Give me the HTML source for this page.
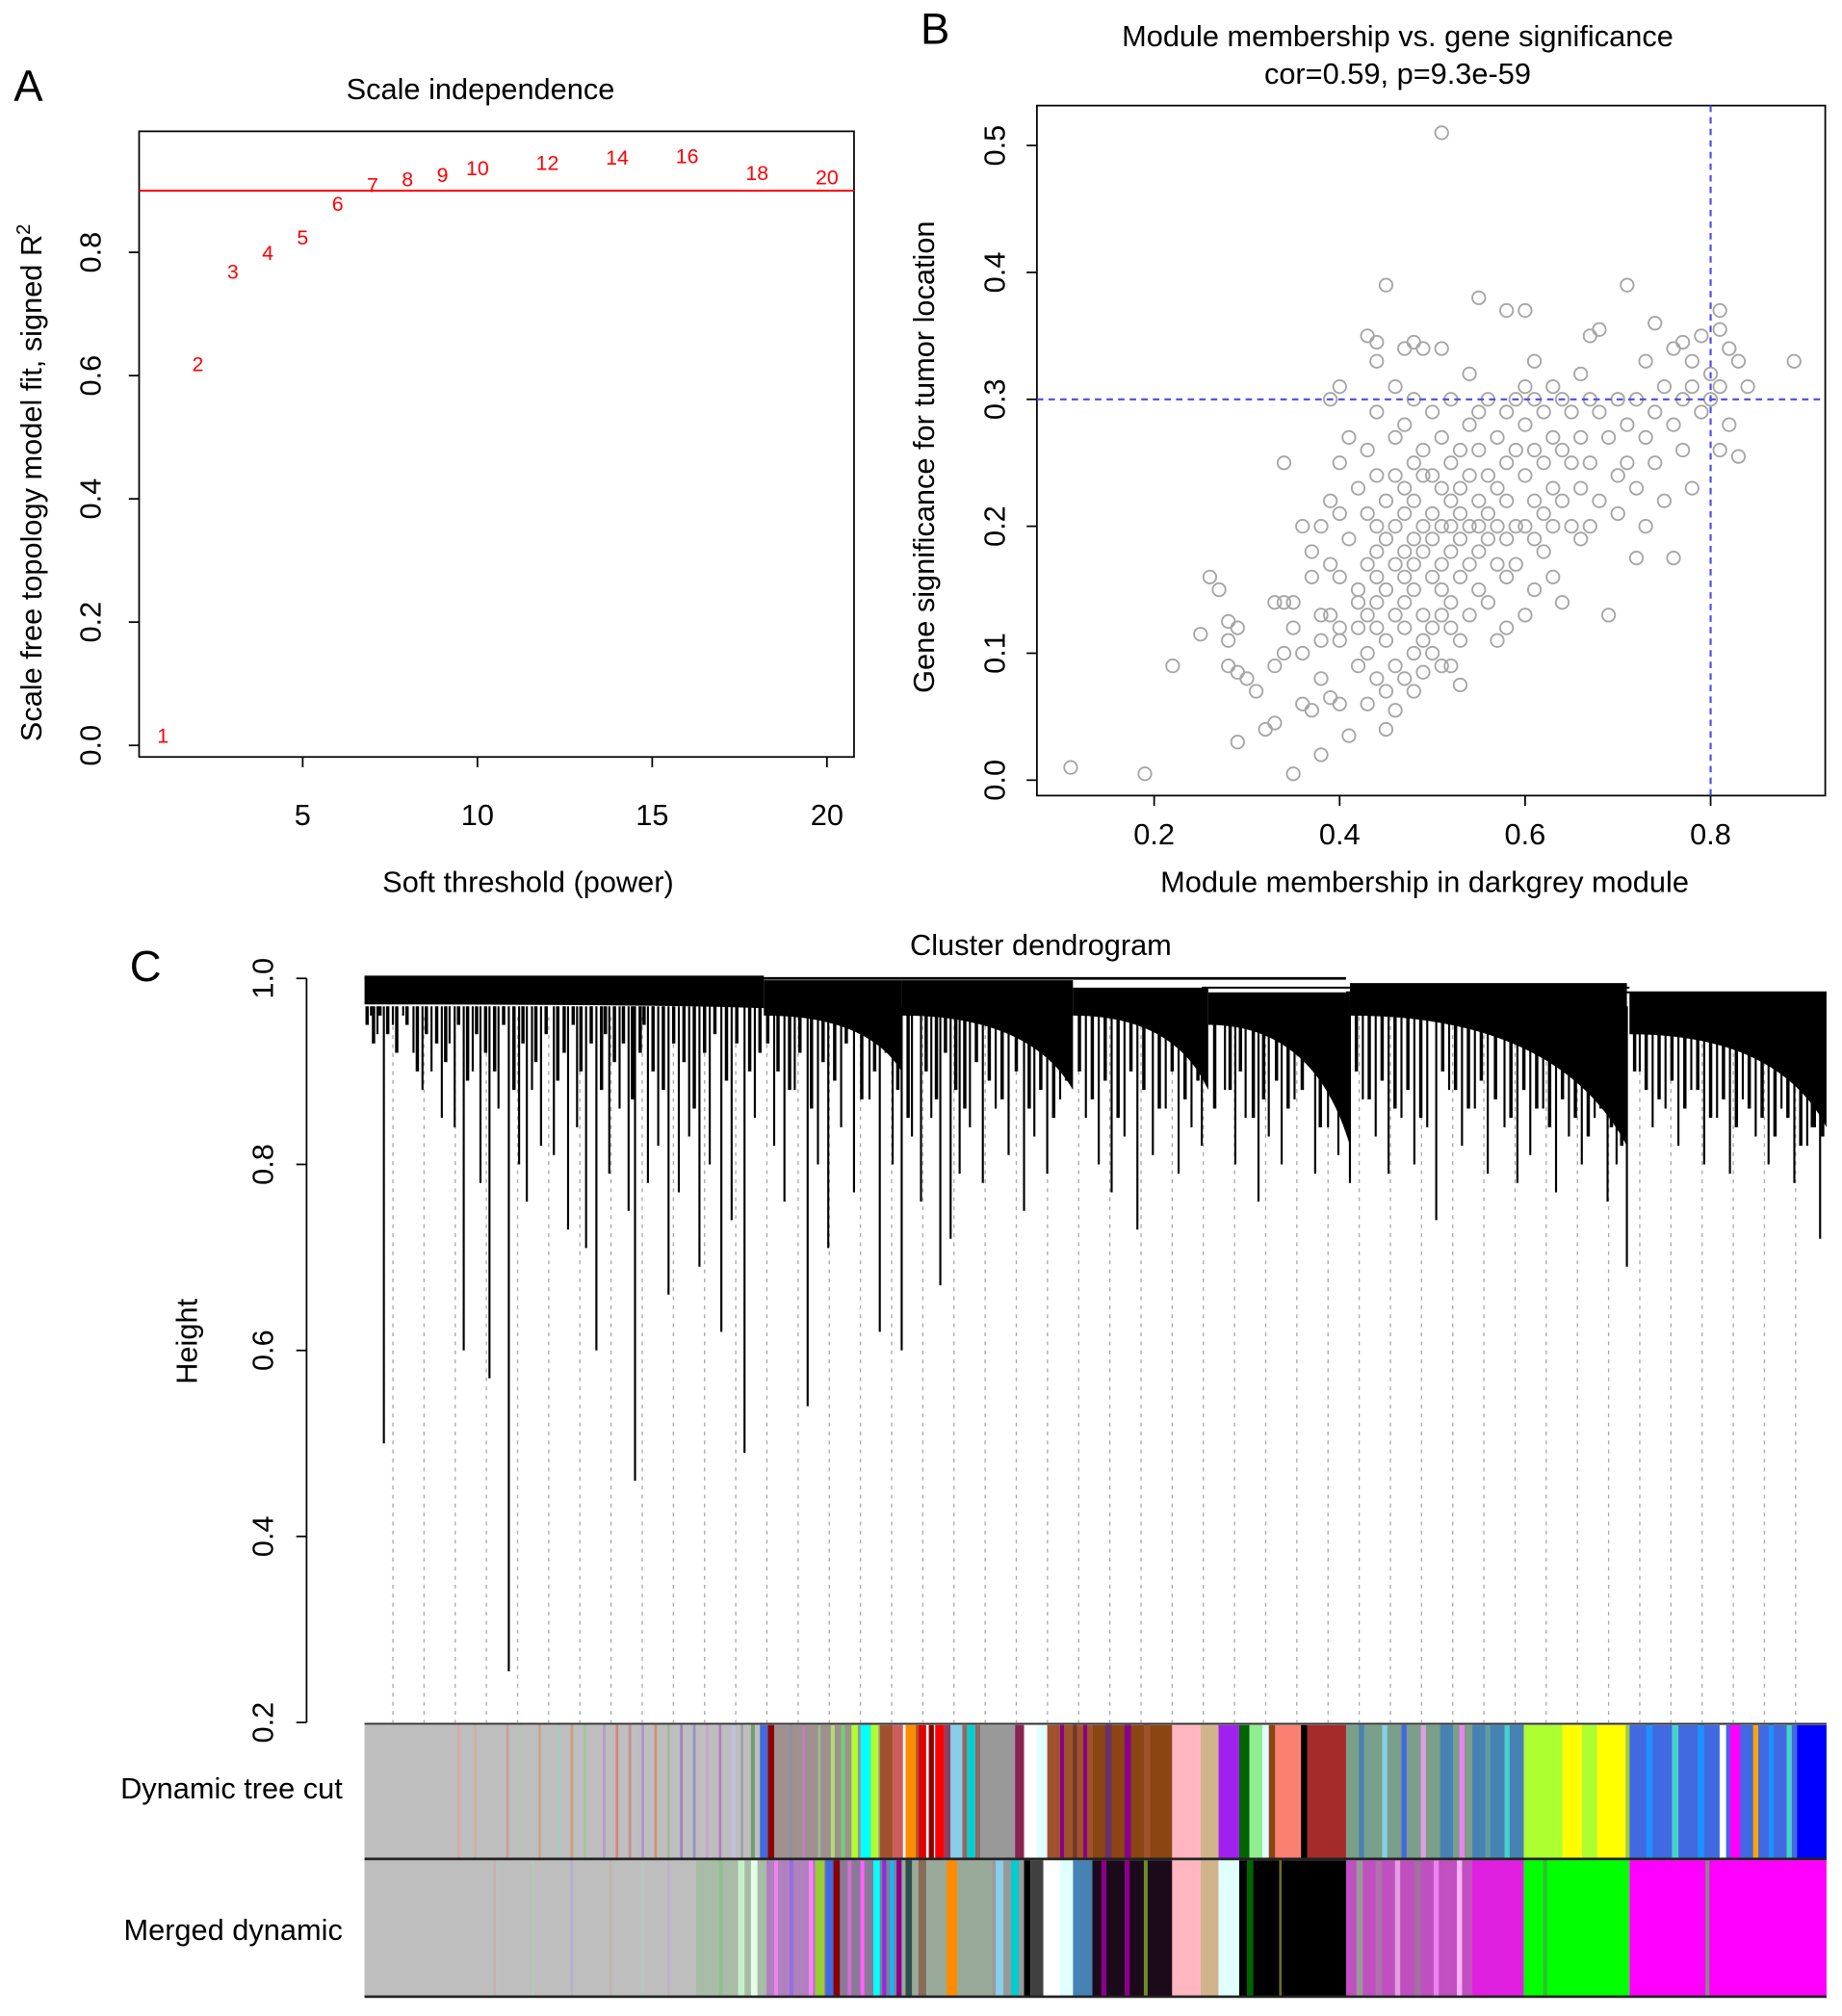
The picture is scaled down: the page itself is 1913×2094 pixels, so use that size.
<!DOCTYPE html>
<html><head><meta charset="utf-8"><style>
html,body{margin:0;padding:0;background:#fff;}
svg{display:block;font-family:"Liberation Sans",Arial,sans-serif;}
</style></head><body>
<svg id="fig" width="1913" height="2094" viewBox="0 0 1430 1566" preserveAspectRatio="none" xmlns="http://www.w3.org/2000/svg">
<g id="pA"></g>
<g id="pB"></g>
<g id="pC"></g>
</svg>
<script>
// ---------- Panel A data ----------
const powers = [1,2,3,4,5,6,7,8,9,10,12,14,16,18,20];
const fitR2 = [0.017,0.62,0.77,0.80,0.825,0.88,0.91,0.92,0.927,0.938,0.946,0.955,0.957,0.93,0.923];
const aXTicks = [5,10,15,20];
const aYTicks = [0.0,0.2,0.4,0.6,0.8];
const aCutoff = 0.9;

// ---------- Panel B data ----------
const mmValues = [0.26,0.27,0.25,0.28,0.28,0.29,0.28,0.29,0.30,0.31,0.29,0.32,0.33,0.33,0.34,0.34,0.33,0.35,0.35,0.34,0.36,0.36,0.37,0.36,0.37,0.37,0.38,0.38,0.38,0.38,0.38,0.39,0.39,0.39,0.39,0.39,0.40,0.40,0.40,0.40,0.40,0.40,0.40,0.41,0.41,0.41,0.42,0.42,0.42,0.42,0.42,0.43,0.43,0.43,0.43,0.43,0.43,0.43,0.44,0.44,0.44,0.44,0.44,0.44,0.44,0.44,0.44,0.44,0.45,0.45,0.45,0.45,0.45,0.45,0.45,0.46,0.46,0.46,0.46,0.46,0.46,0.46,0.46,0.47,0.47,0.47,0.47,0.47,0.47,0.47,0.47,0.47,0.48,0.48,0.48,0.48,0.48,0.48,0.48,0.48,0.48,0.49,0.49,0.49,0.49,0.49,0.49,0.49,0.49,0.50,0.50,0.50,0.50,0.50,0.50,0.50,0.51,0.51,0.51,0.51,0.51,0.51,0.51,0.51,0.51,0.52,0.52,0.52,0.52,0.52,0.52,0.52,0.52,0.53,0.53,0.53,0.53,0.53,0.53,0.53,0.54,0.54,0.54,0.54,0.54,0.54,0.55,0.55,0.55,0.55,0.55,0.55,0.55,0.56,0.56,0.56,0.56,0.56,0.57,0.57,0.57,0.57,0.57,0.58,0.58,0.58,0.58,0.58,0.58,0.58,0.59,0.59,0.59,0.59,0.60,0.60,0.60,0.60,0.60,0.60,0.61,0.61,0.61,0.61,0.61,0.61,0.62,0.62,0.62,0.62,0.63,0.63,0.63,0.63,0.63,0.64,0.64,0.64,0.64,0.65,0.65,0.65,0.66,0.66,0.66,0.66,0.67,0.67,0.67,0.67,0.68,0.68,0.68,0.69,0.69,0.70,0.70,0.70,0.71,0.71,0.71,0.72,0.72,0.72,0.73,0.73,0.73,0.74,0.74,0.74,0.75,0.75,0.76,0.76,0.76,0.77,0.77,0.77,0.78,0.78,0.78,0.79,0.79,0.80,0.80,0.81,0.81,0.81,0.81,0.82,0.82,0.83,0.83,0.84,0.89,0.11,0.19,0.22,0.35];
const gsValues = [0.16,0.15,0.115,0.125,0.11,0.12,0.09,0.085,0.08,0.07,0.03,0.04,0.045,0.09,0.25,0.14,0.14,0.14,0.12,0.1,0.1,0.2,0.18,0.06,0.055,0.16,0.2,0.13,0.11,0.08,0.02,0.065,0.13,0.17,0.22,0.3,0.31,0.25,0.21,0.16,0.12,0.11,0.06,0.035,0.19,0.27,0.23,0.14,0.12,0.09,0.15,0.35,0.26,0.21,0.17,0.13,0.1,0.06,0.345,0.33,0.29,0.24,0.2,0.18,0.16,0.14,0.12,0.08,0.39,0.22,0.19,0.15,0.11,0.07,0.04,0.31,0.27,0.24,0.2,0.17,0.13,0.09,0.055,0.34,0.28,0.23,0.21,0.18,0.16,0.14,0.12,0.08,0.345,0.3,0.25,0.22,0.19,0.17,0.15,0.1,0.07,0.34,0.26,0.24,0.2,0.18,0.13,0.11,0.085,0.29,0.24,0.21,0.19,0.16,0.12,0.1,0.51,0.34,0.27,0.23,0.2,0.17,0.15,0.13,0.09,0.3,0.25,0.22,0.2,0.18,0.14,0.12,0.09,0.26,0.23,0.21,0.19,0.16,0.11,0.075,0.32,0.28,0.24,0.2,0.17,0.13,0.38,0.29,0.26,0.22,0.2,0.18,0.15,0.3,0.24,0.21,0.19,0.14,0.27,0.23,0.2,0.17,0.11,0.37,0.29,0.25,0.22,0.19,0.16,0.12,0.3,0.26,0.2,0.17,0.37,0.31,0.28,0.24,0.2,0.13,0.33,0.3,0.26,0.22,0.19,0.15,0.29,0.25,0.21,0.18,0.31,0.27,0.23,0.2,0.16,0.3,0.26,0.22,0.14,0.29,0.25,0.2,0.32,0.27,0.23,0.19,0.35,0.3,0.25,0.2,0.355,0.29,0.22,0.27,0.13,0.3,0.24,0.21,0.39,0.28,0.25,0.3,0.23,0.175,0.33,0.27,0.2,0.36,0.29,0.25,0.31,0.22,0.34,0.28,0.175,0.345,0.3,0.26,0.33,0.31,0.23,0.35,0.29,0.32,0.3,0.37,0.355,0.31,0.26,0.34,0.28,0.33,0.255,0.31,0.33,0.01,0.005,0.09,0.005];
const bXTicks = [0.2,0.4,0.6,0.8];
const bYTicks = [0.0,0.1,0.2,0.3,0.4,0.5];
const bVline = 0.8, bHline = 0.3;

// ---------- Panel C data ----------
const cYTicks = [0.2,0.4,0.6,0.8,1.0];
const leafPos = [15,77,97,112,137,147,180,210,277,295,344,417,447,765,832,980,1130,
 5,10,22,30,38,45,52,60,66,70,84,90,104,120,126,130,158,165,172,190,198,205,220,228,236,244,252,260,268,285,303,
 318,326,334,352,360,370,380,392,400,410,425,432,440,455,462,470,480,490,500,512,520,530,540,
 560,570,580,590,600,612,622,632,642,650,668,676,684,694,702,712,722,738,748,756,
 775,785,795,805,815,825,842,852,862,872,885,895,905,915,925,935,945,955,965,972,
 990,1000,1010,1020,1030,1040,1050,1060,1070,1080,1090,1100,1110,1120,1126];
const leafH = [0.5,0.6,0.57,0.255,0.82,0.81,0.6,0.46,0.62,0.49,0.54,0.6,0.67,0.78,0.74,0.69,0.72,
 0.96,0.94,0.95,0.96,0.92,0.88,0.9,0.85,0.93,0.84,0.9,0.78,0.86,0.8,0.76,0.88,0.73,0.84,0.71,0.79,0.86,0.75,0.78,0.82,0.66,0.77,0.83,0.69,0.8,0.74,0.85,
 0.82,0.76,0.88,0.8,0.71,0.84,0.77,0.87,0.62,0.8,0.83,0.76,0.85,0.72,0.79,0.84,0.78,0.86,0.81,0.75,0.83,0.79,0.87,
 0.85,0.8,0.77,0.83,0.73,0.81,0.86,0.79,0.84,0.82,0.88,0.8,0.85,0.76,0.83,0.8,0.87,0.79,0.84,0.81,
 0.87,0.83,0.79,0.85,0.8,0.84,0.88,0.82,0.86,0.79,0.84,0.78,0.81,0.86,0.77,0.83,0.8,0.85,0.76,0.8,
 0.9,0.84,0.86,0.82,0.88,0.8,0.85,0.79,0.87,0.83,0.8,0.86,0.78,0.82,0.84];
// extra short branches (dense fringe)
const shortPos = [2,7,12,18,25,33,41,48,56,63,73,80,87,94,101,108,116,123,133,141,150,155,162,168,176,184,187,194,201,208,214,217,224,232,240,248,256,264,272,281,289,299,307,
 313,321,330,338,347,356,365,374,386,396,405,414,422,436,444,451,459,466,475,485,495,506,516,525,535,545,
 555,565,575,585,595,605,617,627,637,647,660,672,680,690,698,708,717,728,742,752,760,
 770,780,790,800,810,820,837,847,857,867,878,890,900,910,920,930,940,950,960,968,976,
 986,995,1005,1015,1025,1035,1045,1055,1065,1075,1085,1095,1105,1115,1124,1132];
const shortH = [0.95,0.93,0.96,0.94,0.92,0.95,0.9,0.94,0.93,0.91,0.95,0.89,0.94,0.92,0.9,0.95,0.88,0.93,0.91,0.94,0.89,0.92,0.95,0.9,0.93,0.88,0.94,0.91,0.93,0.87,0.92,0.95,0.9,0.88,0.93,0.91,0.86,0.92,0.94,0.89,0.93,0.9,0.92,
 0.93,0.9,0.88,0.92,0.86,0.91,0.89,0.93,0.87,0.9,0.92,0.88,0.85,0.9,0.87,0.92,0.88,0.86,0.91,0.89,0.87,0.9,0.86,0.88,0.85,0.89,
 0.9,0.87,0.89,0.85,0.9,0.88,0.86,0.9,0.87,0.89,0.86,0.88,0.9,0.85,0.87,0.89,0.86,0.88,0.84,0.87,0.85,
 0.9,0.87,0.89,0.86,0.88,0.85,0.9,0.88,0.86,0.89,0.87,0.85,0.88,0.86,0.84,0.87,0.85,0.83,0.86,0.84,0.82,
 0.9,0.88,0.87,0.89,0.86,0.88,0.85,0.87,0.84,0.86,0.85,0.83,0.85,0.82,0.84,0.83];
const clStart = [0,310,417,550,655,765,982];
const clEnd =   [310,417,550,655,765,980,1135];
const clTop =   [1.003,0.998,0.998,0.99,0.985,0.995,0.985];
const clBotL =  [0.972,0.96,0.96,0.96,0.95,0.96,0.94];
const clBotR =  [0.968,0.9,0.88,0.88,0.82,0.82,0.84];
const dynSegs = [[0,310,'#bebebe'],[72,74,'#d8a8a8'],[85,87,'#c8b4a0'],[110,112,'#c9a0a0'],[120,122,'#b0c8b0'],[135,137,'#c0a890'],[150,152,'#a8c8c0'],[160,162,'#c4a080'],[170,172,'#a0c8a0'],[185,187,'#b49cc8'],[195,197,'#e08080'],[205,207,'#c89090'],[215,217,'#b090d0'],[225,227,'#d09070'],[235,237,'#a0b8a0'],[245,247,'#a080c0'],[255,257,'#9090d0'],[265,267,'#d0a0d0'],[275,277,'#b080c0'],[285,288,'#c0c0e0'],[292,294,'#9aa0b0'],[300,303,'#70a070'],
 [307,313,'#4169e1'],[313,318,'#8b0000'],[318,400,'#a09090'],[330,332,'#9090a0'],[340,342,'#c080c0'],[352,354,'#90c090'],[362,365,'#b0e070'],[370,373,'#70d070'],[378,383,'#adff2f'],[385,393,'#00ffff'],[393,399,'#adff2f'],[400,410,'#a0522d'],[410,418,'#cd5c5c'],[420,428,'#ff8c00'],[428,430,'#a0522d'],[430,436,'#e00000'],[438,442,'#8b0000'],[443,450,'#ff0000'],[450,455,'#8b4060'],[455,464,'#87ceeb'],[464,468,'#8b6a6a'],[468,474,'#00ced1'],[474,478,'#8b6a6a'],[478,505,'#999999'],[505,512,'#8b2252'],[512,522,'#ffffff'],[522,530,'#e0ffff'],[530,565,'#a0522d'],[540,543,'#8b008b'],[550,553,'#6b3a2a'],[558,561,'#8b008b'],
 [565,627,'#8b4513'],[575,580,'#6b2f6b'],[590,595,'#8b008b'],[605,610,'#a0522d'],[627,649,'#ffb6c1'],[649,663,'#d2b48c'],[663,679,'#a020f0'],[679,687,'#006400'],[687,697,'#90ee90'],[697,702,'#e0ffff'],[702,707,'#8b4513'],[707,727,'#fa8072'],[727,732,'#000000'],[732,762,'#a52a2a'],
 [762,900,'#7a9f8a'],[772,776,'#4682b4'],[790,794,'#87ceeb'],[805,809,'#4169e1'],[820,824,'#dda0dd'],[835,845,'#4682b4'],[850,854,'#ee82ee'],[860,900,'#4682b4'],[870,874,'#5f9ea0'],[885,889,'#48d1cc'],
 [900,930,'#adff2f'],[930,945,'#ffff00'],[945,957,'#adff2f'],[957,979,'#ffff00'],[979,982,'#9acd32'],
 [982,1112,'#4169e1'],[995,1000,'#1e90ff'],[1015,1020,'#48d1cc'],[1035,1040,'#1e90ff'],[1052,1057,'#ffffff'],[1060,1068,'#ff00ff'],[1078,1082,'#ffa500'],[1090,1094,'#1e90ff'],[1104,1108,'#48d1cc'],[1112,1135,'#0000ff']];
const mrgSegs = [[0,257,'#bebebe'],[100,102,'#c4b0b0'],[130,132,'#b8c8b8'],[160,162,'#b4b0c8'],[190,192,'#c8b0b0'],[215,217,'#b0c8c0'],[235,237,'#c0b0c8'],[257,312,'#a8bca8'],[275,278,'#90c090'],[290,295,'#c8f0c8'],[300,305,'#e8ffe8'],
 [312,357,'#b080c0'],[318,321,'#ee82ee'],[330,333,'#9370db'],[345,348,'#ff80ff'],[350,357,'#9acd32'],[357,417,'#8a7a9a'],[358,364,'#4169e1'],[364,369,'#8b0000'],[375,378,'#d070d0'],[385,388,'#ff60ff'],[395,400,'#00ffff'],[402,405,'#8a2be2'],[408,411,'#00bfff'],[413,417,'#8b008b'],
 [417,487,'#9aaa9a'],[420,425,'#2f4f4f'],[430,436,'#8a6a5a'],[452,460,'#ff8c00'],[487,517,'#999999'],[490,496,'#87ceeb'],[502,508,'#00ced1'],[512,517,'#000000'],[517,527,'#404040'],[527,540,'#ffffff'],[540,550,'#e0ffff'],[550,565,'#4682b4'],
 [565,627,'#1a0a1a'],[572,576,'#8b008b'],[590,594,'#8b008b'],[605,608,'#6b8e23'],[627,649,'#ffb6c1'],[649,663,'#d2b48c'],[663,679,'#e0ffff'],[679,762,'#000000'],[685,690,'#006400'],[710,712,'#6b6b2a'],
 [762,900,'#c050c0'],[770,775,'#999999'],[785,790,'#b070b0'],[800,804,'#e0a0e0'],[815,820,'#a070a0'],[830,834,'#ee82ee'],[848,852,'#ffb0ff'],[860,900,'#e020e0'],[900,982,'#00ff00'],[915,918,'#30c030'],[982,1135,'#ff00ff'],[1041,1044,'#888888']];

const NS='http://www.w3.org/2000/svg';
function mk(parent,tag,attrs,text){const e=document.createElementNS(NS,tag);for(const k in attrs)e.setAttribute(k,attrs[k]);if(text!==undefined)e.textContent=text;parent.appendChild(e);return e;}

// ---------- Panel A ----------
(function(){
 const g=document.getElementById('pA');
 const L=108,R=663,T=102,B=588;
 const xA=v=>235+(v-5)*(642-235)/15;
 const yA=v=>579-v*478.75;
 let e=mk(g,'text',{x:22,y:78,'font-size':34,'text-anchor':'middle'},'A');
 
 
 e=mk(g,'text',{x:373,y:77,'font-size':23,'text-anchor':'middle'},'Scale independence');
 
 
 e=mk(g,'rect',{x:L,y:T,width:R-L,height:B-T,fill:'none',stroke:'#000','stroke-width':1.3});
 
 
 aXTicks.forEach(v=>{const x=xA(v);mk(g,'line',{x1:x,y1:B,x2:x,y2:B+8,stroke:'#000','stroke-width':1.3});
  e=mk(g,'text',{x:x,y:641,'font-size':23,'text-anchor':'middle'},String(v));
  
  });
 aYTicks.forEach(v=>{const y=yA(v);mk(g,'line',{x1:L,y1:y,x2:L-8,y2:y,stroke:'#000','stroke-width':1.3});
  e=mk(g,'text',{x:0,y:0,'font-size':23,'text-anchor':'middle',transform:`translate(78,${y}) rotate(-90)`},v.toFixed(1));
  
  });
 e=mk(g,'text',{x:410,y:693,'font-size':23,'text-anchor':'middle'},'Soft threshold (power)');
 
 
 e=mk(g,'text',{x:0,y:0,'font-size':23,'text-anchor':'middle',transform:'translate(32,375) rotate(-90)'});
 
 
 e.innerHTML='Scale free topology model fit, signed R<tspan dy="-9" font-size="15">2</tspan>';
 e=mk(g,'line',{x1:L,y1:yA(aCutoff),x2:R,y2:yA(aCutoff),stroke:'#ff0000','stroke-width':1.5});
 
 
 powers.forEach((p,i)=>{e=mk(g,'text',{x:xA(p),y:yA(fitR2[i])+6,'font-size':16,fill:'#ff0000','text-anchor':'middle'},String(p));
  
  });
})();

// ---------- Panel B ----------
(function(){
 const g=document.getElementById('pB');
 const L=805,R=1417,T=82,B=618;
 const xB=v=>896+(v-0.2)*720;
 const yB=v=>606-v*986;
 let e=mk(g,'text',{x:726,y:34,'font-size':34,'text-anchor':'middle'},'B');
 
 
 e=mk(g,'text',{x:1085,y:36,'font-size':23,'text-anchor':'middle'},'Module membership vs. gene significance');
 
 
 e=mk(g,'text',{x:1085,y:65,'font-size':23,'text-anchor':'middle'},'cor=0.59, p=9.3e-59');
 
 
 e=mk(g,'rect',{x:L,y:T,width:R-L,height:B-T,fill:'none',stroke:'#000','stroke-width':1.3});
 
 
 bXTicks.forEach(v=>{const x=xB(v);mk(g,'line',{x1:x,y1:B,x2:x,y2:B+8,stroke:'#000','stroke-width':1.3});
  e=mk(g,'text',{x:x,y:656,'font-size':23,'text-anchor':'middle'},v.toFixed(1));
  
  });
 bYTicks.forEach(v=>{const y=yB(v);mk(g,'line',{x1:L,y1:y,x2:L-8,y2:y,stroke:'#000','stroke-width':1.3});
  e=mk(g,'text',{x:0,y:0,'font-size':23,'text-anchor':'middle',transform:`translate(780,${y}) rotate(-90)`},v.toFixed(1));
  
  });
 e=mk(g,'text',{x:1106,y:693,'font-size':23,'text-anchor':'middle'},'Module membership in darkgrey module');
 
 
 e=mk(g,'text',{x:0,y:0,'font-size':23,'text-anchor':'middle',transform:'translate(725,355) rotate(-90)'},'Gene significance for tumor location');
 
 
 mmValues.forEach((m,i)=>{e=mk(g,'circle',{cx:xB(m),cy:yB(gsValues[i]),r:5,fill:'none',stroke:'#a6a6a6','stroke-width':1.4});
  
  });
 e=mk(g,'line',{x1:L,y1:yB(bHline),x2:R,y2:yB(bHline),stroke:'#4a4af0','stroke-width':1.6,'stroke-dasharray':'5 4'});
 
 
 e=mk(g,'line',{x1:xB(bVline),y1:T,x2:xB(bVline),y2:B,stroke:'#4a4af0','stroke-width':1.6,'stroke-dasharray':'5 4'});
 
 
})();

// ---------- Panel C ----------
(function(){
 const g=document.getElementById('pC');
 const X0=283,W=1135;
 const xC=p=>X0+p;
 const yC=h=>760+(1-h)*722.5;
 let e=mk(g,'text',{x:113,y:762,'font-size':34,'text-anchor':'middle'},'C');
 
 
 e=mk(g,'text',{x:808,y:742,'font-size':23,'text-anchor':'middle'},'Cluster dendrogram');
 
 
 mk(g,'line',{x1:238,y1:yC(1.0),x2:238,y2:yC(0.2),stroke:'#000','stroke-width':1.3});
 cYTicks.forEach(v=>{const y=yC(v);mk(g,'line',{x1:238,y1:y,x2:230,y2:y,stroke:'#000','stroke-width':1.3});
  e=mk(g,'text',{x:0,y:0,'font-size':23,'text-anchor':'middle',transform:`translate(212,${y}) rotate(-90)`},v.toFixed(1));
  
  });
 e=mk(g,'text',{x:0,y:0,'font-size':23,'text-anchor':'middle',transform:'translate(153,1042) rotate(-90)'},'Height');
 
 
 for(let x=305;x<=1418;x+=24.2){mk(g,'line',{x1:x,y1:790,x2:x,y2:1338,stroke:'#aaa','stroke-width':1,'stroke-dasharray':'3 4'});}
 clStart.forEach((s,i)=>{const x1=xC(s),x2=xC(clEnd[i]);
  const yt=yC(clTop[i]),yl=yC(clBotL[i]),yr=yC(clBotR[i]);
  const mx=x1+(x2-x1)*0.75;
  e=mk(g,'path',{d:`M${x1},${yt} L${x2},${yt} L${x2},${yr} Q${mx},${yl} ${x1},${yl} Z`,fill:'#000'});
  
  });
 mk(g,'line',{x1:X0,y1:yC(1.0),x2:xC(762),y2:yC(1.0),stroke:'#000','stroke-width':2});
 mk(g,'line',{x1:xC(650),y1:yC(0.99),x2:xC(982),y2:yC(0.99),stroke:'#000','stroke-width':1.5});
 mk(g,'line',{x1:xC(762),y1:yC(0.985),x2:xC(1135),y2:yC(0.985),stroke:'#000','stroke-width':1.5});
 shortPos.forEach((p,i)=>{e=mk(g,'line',{x1:xC(p),y1:yC(0.97),x2:xC(p),y2:yC(shortH[i]),stroke:'#000','stroke-width':2.6});
  
  });
 leafPos.forEach((p,i)=>{e=mk(g,'line',{x1:xC(p),y1:yC(0.97),x2:xC(p),y2:yC(leafH[i]),stroke:'#000','stroke-width':1.6});
  
  });
 function bar(segs,y,h,name){const gg=mk(g,'g',{});
  
  
  segs.forEach(s=>mk(gg,'rect',{x:xC(s[0]),y:y,width:s[1]-s[0],height:h,fill:s[2]}));}
 bar(dynSegs,1340,104,'dynamic-tree-cut-bar');
 bar(mrgSegs,1445,106,'merged-dynamic-bar');
 mk(g,'line',{x1:X0,y1:1339,x2:X0+W,y2:1339,stroke:'#333','stroke-width':1.5});
 mk(g,'line',{x1:X0,y1:1444,x2:X0+W,y2:1444,stroke:'#222','stroke-width':2});
 mk(g,'line',{x1:X0,y1:1551,x2:X0+W,y2:1551,stroke:'#222','stroke-width':2});
 e=mk(g,'text',{x:266,y:1397,'font-size':23,'text-anchor':'end'},'Dynamic tree cut');
 
 
 e=mk(g,'text',{x:266,y:1507,'font-size':23,'text-anchor':'end'},'Merged dynamic');
 
 
})();
</script>
</body></html>
